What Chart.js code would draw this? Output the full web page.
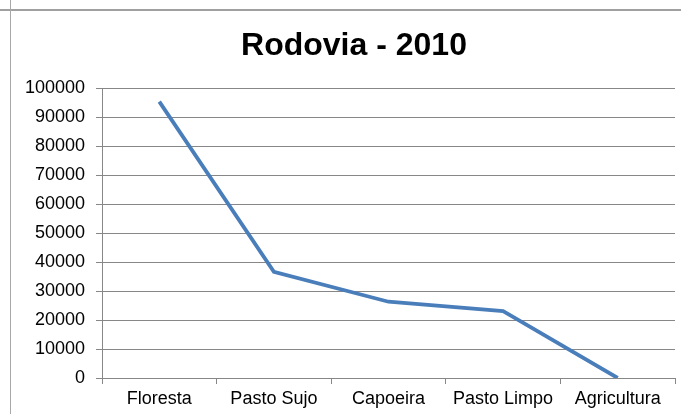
<!DOCTYPE html>
<html>
<head>
<meta charset="utf-8">
<script src="https://cdn.jsdelivr.net/npm/chart.js@4"></script>
<style>
  html, body { margin: 0; padding: 0; background: #fff; }
  #wrap { position: relative; width: 681px; height: 414px; overflow: hidden; }
  /* spreadsheet cell borders behind the chart */
  .hline { position: absolute; left: 0; top: 9px; width: 681px; height: 2px; background: #a0a0a0; }
  .vline { position: absolute; left: 10px; top: 0; width: 1px; height: 414px; background: #a8a8a8; }
  canvas { position: absolute; left: 0; top: 0; }
</style>
</head>
<body>
<div id="wrap">
  <div class="hline"></div>
  <div class="vline"></div>
  <canvas id="chart" width="681" height="414"></canvas>
</div>
<script>
// ---- data ----
const chartTitle = 'Rodovia - 2010';
const categories = ['Floresta', 'Pasto Sujo', 'Capoeira', 'Pasto Limpo', 'Agricultura'];
const rodoviaValues = [95300, 36600, 26300, 23100, 0];
const yTicks = [0, 10000, 20000, 30000, 40000, 50000, 60000, 70000, 80000, 90000, 100000];

const font = "'Liberation Sans', Arial, sans-serif";
const gridGray = '#878787';

// title sits a bit off the plot centre, like the Excel original
const titlePlugin = {
  id: 'excelTitle',
  afterDraw(chart) {
    const c = chart.ctx;
    c.save();
    c.font = `bold 32px ${font}`;
    c.fillStyle = '#000';
    c.textAlign = 'center';
    c.textBaseline = 'middle';
    c.fillText(chartTitle, 354, 46);
    c.restore();
  }
};

new Chart(document.getElementById('chart'), {
  type: 'line',
  data: {
    labels: categories,
    datasets: [{
      label: chartTitle,
      data: rodoviaValues,
      borderColor: '#4a7ebb',
      borderWidth: 3.8,
      pointRadius: 0,
      tension: 0,
      fill: false
    }]
  },
  options: {
    responsive: false,
    animation: false,
    layout: { padding: { left: 0, right: 6, top: 88, bottom: 0 } },
    plugins: {
      legend: { display: false },
      tooltip: { enabled: false },
      title: { display: false }
    },
    scales: {
      x: {
        offset: true,
        grid: {
          offset: true,
          drawOnChartArea: false,
          drawTicks: true,
          tickLength: 6,
          color: gridGray
        },
        border: { color: gridGray, width: 1 },
        ticks: {
          color: '#000',
          padding: 4,
          maxRotation: 0,
          autoSkip: false,
          font: { family: font, size: 18 }
        },
        afterFit(scale) { scale.height = 36; }
      },
      y: {
        min: 0,
        max: 100000,
        afterBuildTicks(scale) { scale.ticks = yTicks.map(v => ({ value: v })); },
        grid: { color: gridGray, tickLength: 6, drawTicks: true },
        border: { color: gridGray, width: 1 },
        ticks: {
          color: '#000',
          padding: 11,
          font: { family: font, size: 18 },
          callback: v => String(v)
        },
        afterFit(scale) { scale.width = 102; }
      }
    }
  },
  plugins: [titlePlugin]
});
</script>
</body>
</html>
